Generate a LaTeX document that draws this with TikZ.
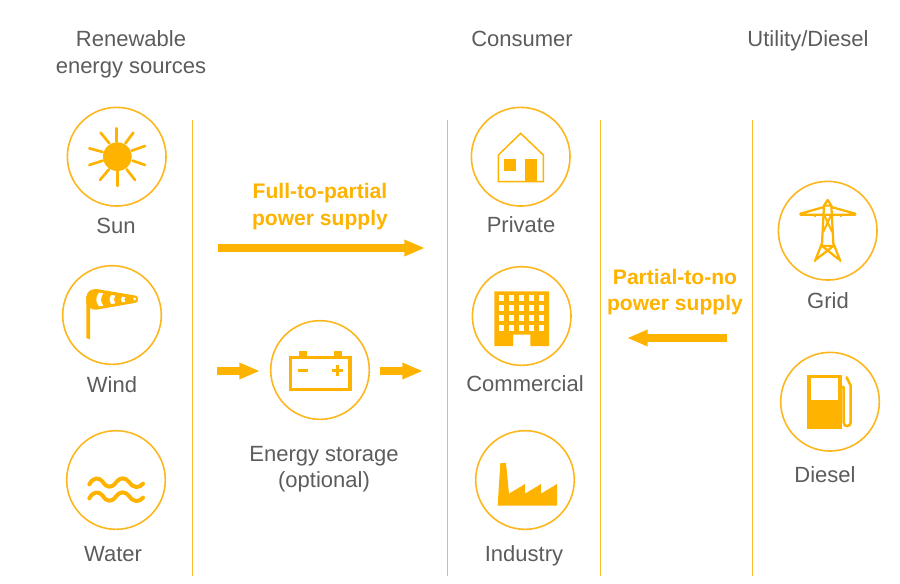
\documentclass[tikz,border=0pt]{standalone}
\usepackage{fontspec}
\setmainfont{Liberation Sans}
\usetikzlibrary{arrows.meta}
\definecolor{amber}{HTML}{FDB300}
\definecolor{ringamber}{HTML}{FDB71E}
\definecolor{labelgrey}{HTML}{5B5C5E}
\definecolor{rulegold}{HTML}{FDBB2A}
\tikzset{
  x=0.75pt, y=-0.75pt,
  ring/.style={circle, draw=ringamber, line width=1.2pt, minimum size=74pt, inner sep=0pt},
  caption/.style={text=labelgrey, font=\fontsize{16.5}{20.25}\selectfont, anchor=base, inner sep=0pt, align=center},
  headline/.style={text=amber, font=\fontsize{15.8}{20.25}\selectfont\bfseries, anchor=base, inner sep=0pt, align=center},
  divider/.style={draw=rulegold, line width=0.65pt},
  flowarrow/.style={draw=amber, line width=5.4pt, -{Triangle[length=15.5pt, width=11.5pt]}, shorten <=0pt},
  icon/.style={fill=amber, draw=none},
  iconline/.style={draw=amber, line cap=round, line join=round},
  fine/.style={x=0.25pt, y=-0.25pt},
}
\begin{document}
\begin{tikzpicture}
\useasboundingbox (0,0) rectangle (900,583);

% column dividers
\foreach \name/\xx in {a/192, b/447, c/600, d/752} {
  \coordinate (top\name) at (\xx,120);
  \coordinate (bot\name) at (\xx,576);
  \draw[divider] (top\name) -- (bot\name);
}

% column headings
\node[caption] (hsrc) at (131,46) {Renewable};
\node[caption] (hsrc2) at (131,73) {energy sources};
\node[caption] (hcons) at (522,46) {Consumer};
\node[caption] (hutil) at (808,46) {Utility/Diesel};

% icon rings
\node[ring] (sun) at (116.7,156.7) {};
\node[ring] (wind) at (112,315) {};
\node[ring] (water) at (116,480) {};
\node[ring] (battery) at (320,370) {};
\node[ring] (private) at (520.7,156.7) {};
\node[ring] (commercial) at (521.7,316) {};
\node[ring] (industry) at (525,480) {};
\node[ring] (grid) at (827.7,230.7) {};
\node[ring] (diesel) at (830,401.7) {};

% captions
\node[caption] (lsun) at (116,233) {Sun};
\node[caption] (lwind) at (112,392) {Wind};
\node[caption] (lwater) at (113,561) {Water};
\node[caption] (lstore) at (324,461) {Energy storage};
\node[caption] (lstore2) at (324,487) {(optional)};
\node[caption] (lprivate) at (521,232) {Private};
\node[caption] (lcomm) at (525,391) {Commercial};
\node[caption] (lind) at (524,561) {Industry};
\node[caption] (lgrid) at (828,308) {Grid};
\node[caption] (ldiesel) at (825,482) {Diesel};

% supply headlines
\node[headline] (full1) at (320,198) {Full-to-partial};
\node[headline] (full2) at (320,225) {power supply};
\node[headline] (part1) at (675,284) {Partial-to-no};
\node[headline] (part2) at (675,310) {power supply};

% supply arrows
\coordinate (fullfrom) at (218,248);
\coordinate (fullto) at (425,248);
\coordinate (partfrom) at (727,338);
\coordinate (partto) at (627,338);
\coordinate (storein) at (217,371);
\coordinate (storeinend) at (260,371);
\coordinate (storeout) at (380,371);
\coordinate (storeoutend) at (423,371);
\draw[flowarrow] (fullfrom) -- (fullto);
\draw[flowarrow] (partfrom) -- (partto);
\draw[flowarrow] (storein) -- (storeinend);
\draw[flowarrow] (storeout) -- (storeoutend);

% sun
\begin{scope}[shift={(50,100)}, fine]
  \fill[amber] (202,170) circle[radius=43];
  \foreach \xa/\ya/\xb/\yb in {200/85/200/125, 152/98/178/130, 250/98/226/130, 118/145/158/156,
      285/138/245/152, 118/195/158/182, 285/195/248/182, 150/240/177/208, 255/240/230/208, 203/258/203/215}
    \draw[iconline, line width=2pt] (\xa,\ya) -- (\xb,\yb);
\end{scope}

% windsock
\begin{scope}[shift={(50,100)}, fine]
  \fill[icon] (109,588) -- (120,588) -- (120,718) -- (109,714) -- cycle;
  \fill[icon] (109,592) .. controls (110,576) and (122,566) .. (140,567)
     -- (258,587) .. controls (266,591) and (266,605) .. (258,608)
     -- (140,629) .. controls (125,630) and (112,622) .. (109,610) -- cycle;
  \fill[white] (147,578) .. controls (136,592) and (136,606) .. (147,619)
     -- (160,617) .. controls (151,606) and (151,592) .. (160,580) -- cycle;
  \fill[white] (184,585) .. controls (177,594) and (177,603) .. (184,612)
     -- (196,610) .. controls (190,603) and (190,594) .. (196,587) -- cycle;
  \fill[white] (216,590) .. controls (212,596) and (212,601) .. (216,607)
     -- (226,605) .. controls (222,601) and (222,596) .. (226,592) -- cycle;
  \fill[white] (254,597) circle[radius=4.5];
\end{scope}

% waves
\begin{scope}[shift={(60,425)}, fine]
  \foreach \yy in {0,42} {
    \draw[iconline, line width=3pt, yshift=\yy*-0.25pt]
      (88,178) .. controls (100,156) and (116,156) .. (128,170)
      .. controls (140,190) and (156,190) .. (168,172)
      .. controls (180,156) and (196,156) .. (208,172)
      .. controls (220,190) and (238,190) .. (249,176);
  }
\end{scope}

% battery
\begin{scope}[shift={(210,315)}, fine]
  \draw[amber, line width=2.3pt] (242,128) rectangle (420,224);
  \fill[icon] (268,108) rectangle (291,125);
  \fill[icon] (372,108) rectangle (395,125);
  \fill[icon] (264,163) rectangle (295,171);
  \fill[icon] (367,163) rectangle (399,171);
  \fill[icon] (379,151) rectangle (387,183);
\end{scope}

% house
\begin{scope}[shift={(460,100)}, fine]
  \draw[amber, line width=1.1pt, line join=miter] (115,245) -- (115,165) -- (182,100) -- (250,165) -- (250,245) -- cycle;
  \fill[icon] (132,178) rectangle (167,214);
  \fill[icon] (195,177) rectangle (230,245);
\end{scope}

% office block
\begin{scope}[shift={(460,100)}, fine]
  \fill[icon] (103,574) -- (267,574) -- (267,738) -- (211,738) -- (211,704) -- (159,704) -- (159,738) -- (103,738) -- cycle;
  \foreach \cx in {116,146,177,207,238} \foreach \cy in {586,616,646,676}
    \fill[white] (\cx,\cy) rectangle ++(15,16);
\end{scope}

% factory
\begin{scope}[shift={(465,425)}, fine]
  \fill[icon] (98,242) -- (106,114) -- (123,114) -- (132,206) -- (180,177) -- (180,206)
     -- (228,177) -- (228,206) -- (276,177) -- (276,242) -- cycle;
\end{scope}

% pylon
\begin{scope}[shift={(770,175)}, fine]
  \draw[iconline, line width=1.7pt]
    (135,258) -- (156,205) -- (162,92) -- (173,75) -- (184,92) -- (190,205) -- (211,258);
  \draw[iconline, line width=1.7pt] (91,116) -- (162,96) (184,96) -- (256,116) (91,119) -- (256,119);
  \draw[iconline, line width=1.5pt] (162,92) -- (184,92) (162,119) -- (186,170) (184,119) -- (160,170);
  \draw[iconline, line width=1.7pt] (156,213) -- (190,213) (156,213) -- (205,252) (190,213) -- (140,252);
  \fill[icon] (131,120) rectangle (137,127);
  \fill[icon] (209,120) rectangle (215,127);
\end{scope}

% fuel pump
\begin{scope}[shift={(770,175)}, fine]
  \fill[icon] (112,599) rectangle (215,762);
  \fill[white] (123,610) rectangle (204,675);
  \draw[iconline, line width=1.9pt] (215,636) -- (221,636) -- (221,742)
     .. controls (221,757) and (242,757) .. (242,742) -- (242,632) -- (230,607);
\end{scope}
\end{tikzpicture}
\end{document}
